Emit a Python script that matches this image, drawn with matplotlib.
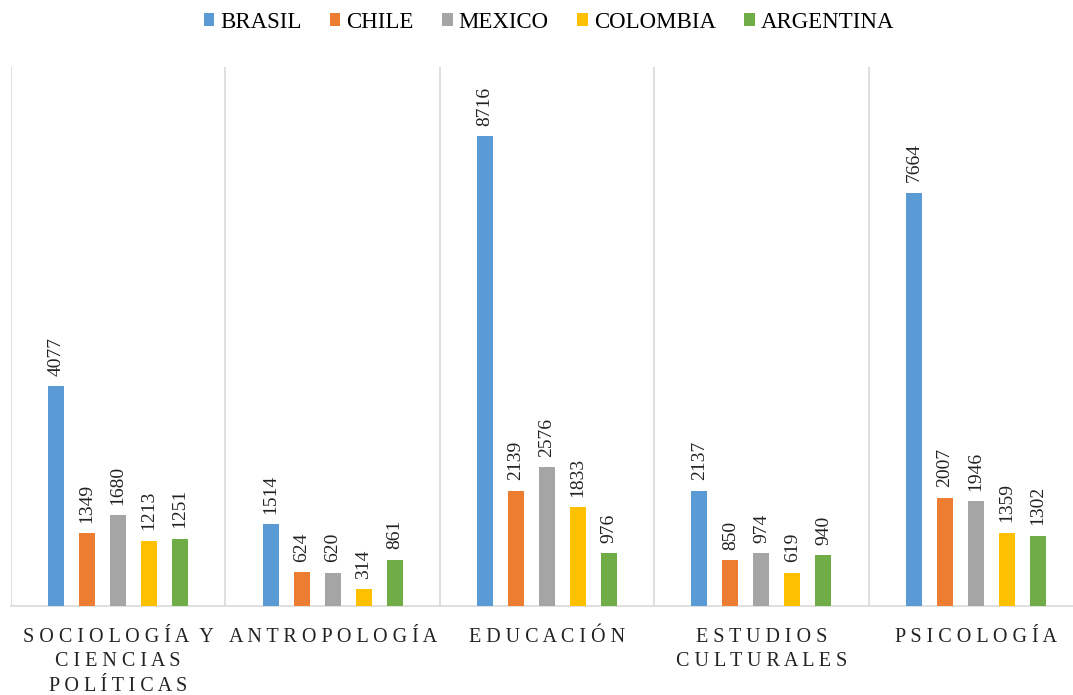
import matplotlib
matplotlib.use("Agg")
import matplotlib.pyplot as plt
import numpy as np

categories = ["SOCIOLOGÍA Y\nCIENCIAS\nPOLÍTICAS", "ANTROPOLOGÍA", "EDUCACIÓN",
              "ESTUDIOS\nCULTURALES", "PSICOLOGÍA"]
countries = ["BRASIL", "CHILE", "MEXICO", "COLOMBIA", "ARGENTINA"]
brasil = [4077, 1514, 8716, 2137, 7664]
chile = [1349, 624, 2139, 850, 2007]
mexico = [1680, 620, 2576, 974, 1946]
colombia = [1213, 314, 1833, 619, 1359]
argentina = [1251, 861, 976, 940, 1302]
series = [brasil, chile, mexico, colombia, argentina]
colors = ["#5B9BD5", "#ED7D31", "#A5A5A5", "#FFC000", "#70AD47"]

SERIF = ["Liberation Serif", "DejaVu Serif"]
plt.rcParams["font.family"] = SERIF


def spaced(text):
    # letter-spaced caps: one space between letters, two no-break spaces between words
    lines = []
    for line in text.split("\n"):
        words = line.split(" ")
        lines.append("\u00a0\u00a0".join(" ".join(word) for word in words))
    return "\n".join(lines)


fig = plt.figure(figsize=(10.73, 6.95), dpi=100)
ax = fig.add_axes([11 / 1073, 89 / 695, 1072 / 1073, 539.3 / 695])

x = np.arange(len(categories))
step = 0.1446
width = 0.075
for i, (vals, name, col) in enumerate(zip(series, countries, colors)):
    pos = x + (i - 2) * step
    bars = ax.bar(pos, vals, width=width, color=col, label=name, zorder=3)
    for b, v in zip(bars, vals):
        ax.annotate(str(v), (b.get_x() + b.get_width() / 2, v),
                    xytext=(0, 7.5), textcoords="offset points",
                    rotation=90, ha="center", va="bottom",
                    fontsize=14, color="#222222")

ax.set_xlim(-0.5, len(categories) - 0.5)
ax.set_ylim(0, 10000)
ax.set_yticks([])
ax.set_xticks(x)
ax.set_xticklabels([spaced(c) for c in categories], fontsize=14.5,
                   color="#222222", linespacing=1.42)
ax.tick_params(axis="x", length=0, pad=15.5)
ax.set_xticks(np.arange(len(categories) + 1) - 0.5, minor=True)
ax.tick_params(axis="x", which="minor", length=0)
ax.grid(which="minor", axis="x", color="#D9D9D9", linewidth=1.2, zorder=0)
for s in ["top", "right", "left"]:
    ax.spines[s].set_visible(False)
ax.spines["bottom"].set_color("#D9D9D9")
ax.spines["bottom"].set_linewidth(1.2)

fig.legend(loc="upper center", bbox_to_anchor=(549 / 1073, 1.013), ncol=5,
           frameon=False, fontsize=16.5, handlelength=0.45, handleheight=0.45,
           handletextpad=0.26, columnspacing=1.25)

fig.savefig("out.png", dpi=100, facecolor="white")
